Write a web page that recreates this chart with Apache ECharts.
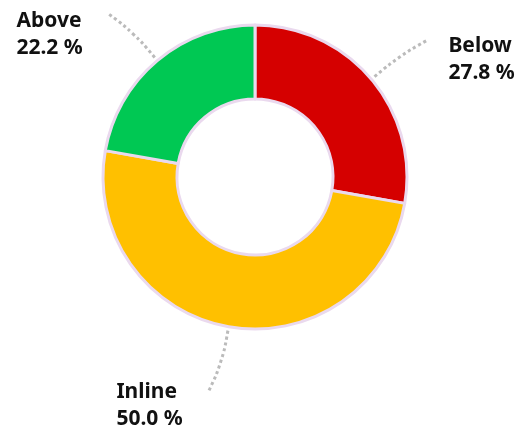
<!DOCTYPE html>
<html>
<head>
<meta charset="utf-8">
<script src="https://cdn.jsdelivr.net/npm/echarts@6/dist/echarts.min.js"></script>
<style>html,body{margin:0;padding:0;background:#fff}#c{width:519px;height:432px}</style>
</head>
<body>
<div id="c"></div>
<script>
var categories = ['Below', 'Inline', 'Above'];
var counts = [5, 9, 4];
var colors = ['#d50000', '#ffc000', '#00c853'];

// label-line styling tweaks (degrees of turn at the line end, label vertical offset)
var lineTurn = [1.5, 2.2, -1.9];
var labelDy = [19, 14, 21];

var chart = echarts.init(document.getElementById('c'), null, {renderer: 'canvas'});
var cx = 255, cy = 177;
chart.setOption({
  animation: false,
  series: [{
    type: 'pie',
    center: [cx, cy],
    radius: [78, 152],
    startAngle: 90,
    clockwise: true,
    percentPrecision: 1,
    avoidLabelOverlap: false,
    itemStyle: {borderColor: '#ead9ee', borderWidth: 3},
    emphasis: {disabled: true},
    label: {
      show: true,
      position: 'outside',
      formatter: function (p) { return p.name + '\n' + p.percent.toFixed(1) + ' %'; },
      fontFamily: 'Noto Sans',
      fontWeight: 'bold',
      fontSize: 21,
      lineHeight: 27,
      color: '#111',
      align: 'left'
    },
    labelLine: {
      show: true,
      length: 66,
      length2: 0,
      smooth: 0.4,
      lineStyle: {color: '#bbbbbb', width: 3, type: [3, 3]}
    },
    labelLayout: function (p) {
      var i = p.dataIndex;
      var a = p.labelLinePoints[0];
      var dx = a[0] - cx, dy = a[1] - cy;
      var r = Math.sqrt(dx * dx + dy * dy);
      var ang = Math.atan2(dy, dx);
      var s = [cx + Math.cos(ang) * (r + 4), cy + Math.sin(ang) * (r + 4)];
      var m = [cx + Math.cos(ang) * (r + 36), cy + Math.sin(ang) * (r + 36)];
      var ang2 = ang + lineTurn[i] * Math.PI / 180;
      var e = [cx + Math.cos(ang2) * (r + 67), cy + Math.sin(ang2) * (r + 67)];
      var w = p.labelRect.width;
      var left = e[0] < cx;
      var x = left ? e[0] - 26 - w : e[0] + 22;
      return {
        x: x,
        y: e[1] + labelDy[i],
        align: 'left',
        verticalAlign: 'middle',
        labelLinePoints: [s, m, e]
      };
    },
    data: categories.map(function (c, i) {
      return {name: c, value: counts[i], itemStyle: {color: colors[i]}};
    })
  }]
});
</script>
</body>
</html>
